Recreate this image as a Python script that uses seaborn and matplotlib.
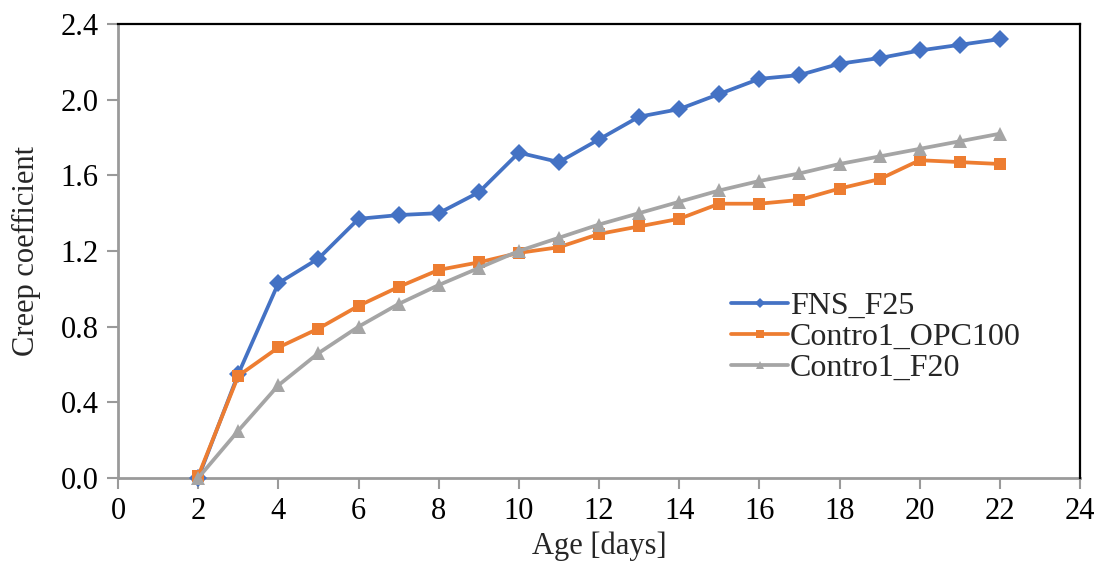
import numpy as np
import pandas as pd
import matplotlib
matplotlib.use("Agg")
import matplotlib.pyplot as plt
import seaborn as sns

age = list(range(2, 23))
fns_f25 = [0.00, 0.55, 1.03, 1.16, 1.37, 1.39, 1.40, 1.51, 1.72, 1.67, 1.79,
           1.91, 1.95, 2.03, 2.11, 2.13, 2.19, 2.22, 2.26, 2.29, 2.32]
control_opc100 = [0.01, 0.54, 0.69, 0.79, 0.91, 1.01, 1.10, 1.14, 1.19, 1.22, 1.29,
                  1.33, 1.37, 1.45, 1.45, 1.47, 1.53, 1.58, 1.68, 1.67, 1.66]
control_f20 = [0.00, 0.25, 0.49, 0.66, 0.80, 0.92, 1.02, 1.11, 1.20, 1.27, 1.34,
               1.40, 1.46, 1.52, 1.57, 1.61, 1.66, 1.70, 1.74, 1.78, 1.82]
labels = ["FNS_F25", "Contro1_OPC100", "Contro1_F20"]
x_ticks = list(range(0, 25, 2))
y_ticks = [0.0, 0.4, 0.8, 1.2, 1.6, 2.0, 2.4]

sns.set_style("white")
plt.rcParams["font.family"] = ["Liberation Serif", "DejaVu Serif"]
plt.rcParams["font.size"] = 22

fig = plt.figure(figsize=(10.97, 5.73), dpi=100)
ax = fig.add_axes([0.1076, 0.1658, 0.8769, 0.7923])

colors = ["#4472C4", "#ED7D31", "#A5A5A5"]
markers = ["D", "s", "^"]
sizes = [9, 9, 10]
series = [fns_f25, control_opc100, control_f20]

for vals, lab, c, m, ms in zip(series, labels, colors, markers, sizes):
    sns.lineplot(x=age, y=vals, ax=ax, color=c, marker=m, markersize=ms,
                 markeredgewidth=0, linewidth=2.7, label=lab, clip_on=False)

ax.set_xlim(0, 24)
ax.set_ylim(0, 2.4)
ax.set_xticks(x_ticks)
ax.set_xticklabels([str(t) for t in x_ticks])
ax.set_yticks(y_ticks)
ax.set_yticklabels([f"{t:.1f}" for t in y_ticks])

for side in ["top", "right"]:
    ax.spines[side].set_color("black")
    ax.spines[side].set_linewidth(1.6)
for side in ["left", "bottom"]:
    ax.spines[side].set_color("#9A9A9A")
    ax.spines[side].set_linewidth(2)
    ax.spines[side].set_zorder(0.5)

ax.tick_params(axis="both", direction="out", length=8, width=1.5, color="#9A9A9A",
               labelsize=22, labelcolor="black", pad=6)
ax.tick_params(axis="x", bottom=True)
ax.tick_params(axis="y", left=True)

ax.set_xlabel("Age [days]", fontsize=22, labelpad=4)
ax.set_ylabel("Creep coefficient", fontsize=22, labelpad=14)

leg = ax.legend(loc="center left", bbox_to_anchor=(0.637, 0.31), frameon=False,
                fontsize=23, handlelength=1.8, handletextpad=0.05,
                labelspacing=0.05, borderpad=0, borderaxespad=0, markerscale=0.6)

fig.savefig("out.png", dpi=100)
